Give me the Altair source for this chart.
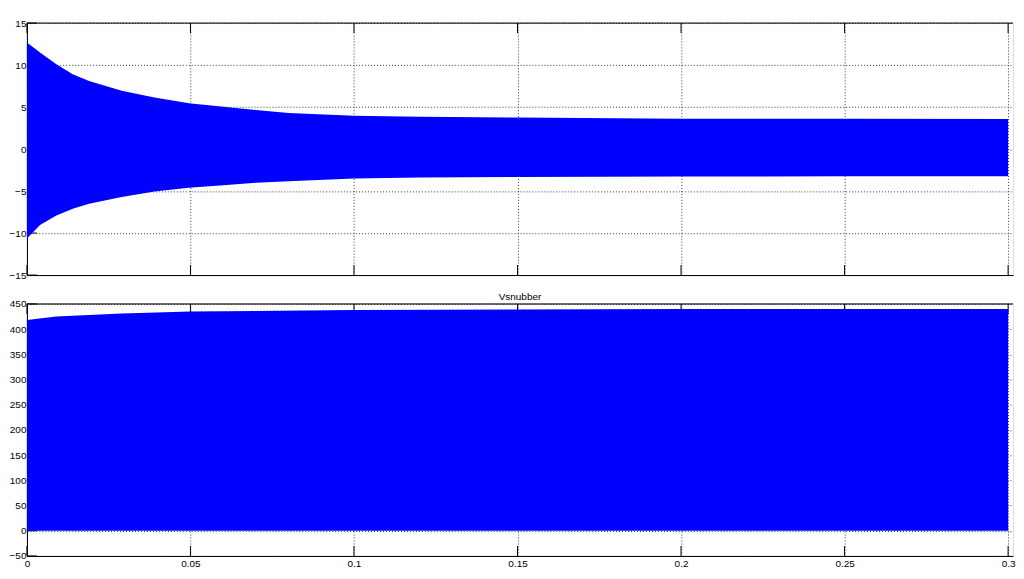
import altair as alt
import pandas as pd

# ---- top panel: envelope of the oscillating signal ----
t_top = [0.0, 0.004, 0.009, 0.014, 0.019, 0.029, 0.039, 0.0495, 0.06, 0.07, 0.08,
         0.1, 0.12, 0.15, 0.2, 0.25, 0.3]
upper_top = [12.7, 11.5, 10.1, 8.9, 8.1, 6.95, 6.15, 5.45, 5.05, 4.65, 4.3,
             3.97, 3.85, 3.75, 3.62, 3.6, 3.58]
lower_top = [-10.65, -9.05, -7.9, -7.1, -6.5, -5.7, -5.05, -4.6, -4.3, -4.02, -3.82,
             -3.5, -3.4, -3.33, -3.27, -3.25, -3.24]

# ---- bottom panel: Vsnubber envelope ----
t_bot = [0.0, 0.009, 0.019, 0.029, 0.05, 0.1, 0.15, 0.2, 0.25, 0.3]
upper_bot = [418, 425, 428, 431, 435, 438, 439, 440, 440, 440]
lower_bot = [0, 0, 0, 0, 0, 0, 0, 0, 0, 0]

x_ticks = [0, 0.05, 0.1, 0.15, 0.2, 0.25, 0.3]
y_ticks_top = [-15, -10, -5, 0, 5, 10, 15]
y_ticks_bot = [-50, 0, 50, 100, 150, 200, 250, 300, 350, 400, 450]
bottom_title = "Vsnubber"

W = 990
H = 253
TICK_PX = 10
X_DOMAIN = [0, 0.3015]
BLUE = "#0000FF"
FONT = "Liberation Sans"

df_top = pd.DataFrame({"t": t_top, "hi": upper_top, "lo": lower_top})
df_bot = pd.DataFrame({"t": t_bot, "hi": upper_bot, "lo": lower_bot})

grid_kw = dict(grid=True, gridColor="#222222", gridDash=[1, 2], gridWidth=1, gridOpacity=0.9)


def panel(df, y_domain, y_ticks, show_x_labels, title=None):
    xscale = alt.Scale(domain=X_DOMAIN, nice=False, zero=False)
    yscale = alt.Scale(domain=y_domain, nice=False, zero=False)
    x_axis = alt.Axis(values=x_ticks, labels=show_x_labels, ticks=False, domain=True,
                      domainColor="black", labelFontSize=10, labelFont=FONT,
                      labelColor="black", labelPadding=3, title=None, format="~g",
                      labelFlush=False, labelOverlap=False, **grid_kw)
    y_axis = alt.Axis(values=y_ticks, ticks=False, domain=True, domainColor="black",
                      labelFontSize=10, labelFont=FONT, labelColor="black",
                      labelPadding=1, minExtent=17, maxExtent=17, title=None,
                      labelFlush=False, labelOverlap=False, **grid_kw)

    ylo, yhi = y_domain
    dy = (yhi - ylo) * TICK_PX / H
    dx = (X_DOMAIN[1] - X_DOMAIN[0]) * TICK_PX / W

    df_xt = pd.DataFrame({"t": x_ticks})
    df_xt["b0"] = ylo
    df_xt["b1"] = ylo + dy
    df_xt["u0"] = yhi
    df_xt["u1"] = yhi - dy
    df_yt = pd.DataFrame({"v": y_ticks})
    df_yt["l0"] = X_DOMAIN[0]
    df_yt["l1"] = X_DOMAIN[0] + dx
    df_border = pd.DataFrame({"x0": [X_DOMAIN[0]], "x1": [X_DOMAIN[1]], "y": [yhi]})

    def X(f):
        return alt.X(f, scale=xscale, axis=x_axis)

    def Y(f):
        return alt.Y(f, scale=yscale, axis=y_axis)

    # inward tick marks (bottom & top) for x, left for y -- drawn beneath the signal
    xt_bottom = alt.Chart(df_xt).mark_rule(color="black", strokeWidth=1).encode(
        x=X("t:Q"), y=Y("b0:Q"), y2="b1:Q")
    xt_top = alt.Chart(df_xt).mark_rule(color="black", strokeWidth=1).encode(
        x=X("t:Q"), y=Y("u0:Q"), y2="u1:Q")
    yt_left = alt.Chart(df_yt).mark_rule(color="black", strokeWidth=1).encode(
        y=Y("v:Q"), x=X("l0:Q"), x2="l1:Q")

    area = alt.Chart(df).mark_area(color=BLUE, opacity=1, interpolate="linear").encode(
        x=X("t:Q"), y=Y("hi:Q"), y2="lo:Q")

    top_border = alt.Chart(df_border).mark_rule(color="black", strokeWidth=1).encode(
        x=X("x0:Q"), x2="x1:Q", y=Y("y:Q"))

    layered = alt.layer(xt_bottom, yt_left, xt_top, area, top_border).properties(
        width=W, height=H)
    if title:
        layered = layered.properties(
            title=alt.TitleParams(title, fontSize=10, font=FONT, fontWeight="normal",
                                  color="black", anchor="middle", offset=-3))
    return layered


top = panel(df_top, [-15, 15], y_ticks_top, False)
bot = panel(df_bot, [-50, 450], y_ticks_bot, True, bottom_title)

chart = alt.vconcat(top, bot, spacing=10).properties(
    padding={"top": 8, "left": 0, "right": 0, "bottom": 0}
).configure_view(stroke=None).configure(background="white")

chart.save("out.html", embed_options={"renderer": "svg", "actions": False})
